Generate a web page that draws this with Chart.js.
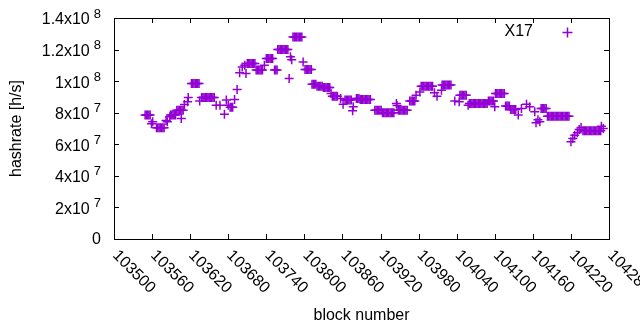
<!DOCTYPE html>
<html>
<head>
<meta charset="utf-8">
<script src="https://cdn.jsdelivr.net/npm/chart.js@4"></script>
<style>
  html, body { margin: 0; padding: 0; background: #fff; }
  #wrap { width: 640px; height: 330px; }
</style>
</head>
<body>
<div id="wrap"><canvas id="grafico" width="640" height="330"></canvas></div>
<script>
// block numbers and hashrate (in units of 1e7 h/s)
const blocks = [
  103549, 103551, 103553, 103555, 103557, 103559, 103561,
  103567, 103569, 103571, 103573, 103575, 103577, 103579,
  103582, 103584, 103588, 103589, 103591, 103593, 103595, 103597,
  103599, 103601, 103603, 103605, 103606, 103607, 103609,
  103611, 103616, 103617,
  103622, 103624, 103626, 103628, 103630, 103632, 103634, 103635,
  103638, 103640, 103642, 103644, 103646, 103648, 103650, 103652, 103654, 103656, 103658,
  103661, 103667, 103674, 103677, 103680, 103683, 103685, 103687, 103690, 103694,
  103698, 103702, 103706, 103708,
  103710, 103712, 103714, 103716, 103718, 103720, 103722,
  103724, 103726, 103728, 103730, 103732, 103734, 103737,
  103740, 103742, 103744, 103746, 103748, 103750,
  103753, 103755, 103757,
  103758, 103760, 103762, 103764, 103766, 103768, 103770, 103772, 103774,
  103776, 103778, 103780,
  103782, 103784, 103786, 103788, 103790, 103792, 103794, 103796,
  103798, 103801, 103803, 103805, 103807, 103809, 103811,
  103812, 103814, 103816, 103818,
  103820, 103822, 103824, 103826, 103828,
  103830, 103832, 103834, 103836, 103838, 103840,
  103842, 103844, 103846, 103848, 103850, 103852,
  103857, 103861, 103864, 103866, 103868, 103870, 103872, 103874,
  103876, 103877, 103882, 103884, 103886,
  103888, 103890, 103892, 103894, 103896, 103898, 103900, 103902, 103904,
  103911, 103913, 103915, 103917, 103919, 103921,
  103923, 103925, 103927, 103929, 103931, 103933, 103935, 103937, 103939, 103941,
  103945, 103946, 103948, 103950, 103952, 103954, 103956, 103958, 103960, 103962,
  103966, 103968, 103970, 103972, 103974, 103976, 103982,
  103984, 103986, 103988, 103990, 103992, 103994, 103996, 103998, 104000, 104002,
  104005, 104009, 104016,
  104017, 104019, 104021, 104023, 104025, 104027, 104029, 104031,
  104037, 104044, 104045, 104047, 104049, 104051, 104053, 104055, 104058,
  104060, 104062, 104064, 104066, 104068, 104070, 104072, 104074, 104076, 104078, 104080, 104082, 104084, 104086, 104088,
  104090, 104092, 104094, 104096, 104098, 104100,
  104101, 104103, 104105, 104107, 104109, 104111, 104113, 104115,
  104117, 104119, 104121, 104123,
  104125, 104127, 104129, 104131, 104133,
  104137, 104142, 104150, 104155, 104163, 104165, 104168, 104171,
  104173, 104175, 104177, 104179, 104181,
  104183, 104185, 104187, 104189, 104191, 104193, 104195, 104197, 104199, 104201, 104203, 104205, 104207, 104209, 104211, 104213, 104215, 104217,
  104220, 104223, 104226, 104230, 104233, 104236,
  104239, 104241, 104243, 104245, 104247, 104249, 104251, 104253, 104255, 104257, 104259, 104261, 104263, 104265, 104267,
  104268, 104271
];

const hashrateE7 = [
  7.85, 7.85, 7.85, 7.85, 7.85, 7.3, 7.42,
  7.05, 7.05, 7.05, 7.05, 7.05, 7.05, 7.05,
  7.5, 7.42, 7.74, 7.85, 7.85, 7.85, 7.85, 7.85,
  8.16, 8.16, 8.16, 8.16, 7.64, 8.16, 8.16,
  8.52, 8.69, 8.97,
  9.85, 9.85, 9.85, 9.85, 9.85, 9.85, 9.85, 8.75,
  8.97, 8.97, 8.97, 8.97, 8.97, 8.97, 8.97, 8.97, 8.97, 8.97, 8.97,
  8.48, 8.48, 7.9, 8.8, 8.48, 8.34, 8.34, 8.34, 8.84, 9.47,
  10.53, 10.9, 11.0, 10.49,
  11.12, 11.12, 11.12, 11.12, 11.12, 11.12, 11.12,
  10.7, 10.7, 10.7, 10.7, 10.7, 10.7, 11.0,
  11.44, 11.44, 11.44, 11.44, 11.44, 11.44,
  10.7, 10.7, 10.7,
  12.0, 12.0, 12.0, 12.0, 12.0, 12.0, 12.0, 12.0, 12.0,
  10.17, 11.54, 11.35,
  12.8, 12.8, 12.8, 12.8, 12.8, 12.8, 12.8, 12.8,
  11.22, 10.74, 10.74, 10.74, 10.74, 10.74, 10.74,
  9.81, 9.81, 9.81, 9.81,
  9.68, 9.68, 9.68, 9.68, 9.68,
  9.6, 9.6, 9.6, 9.6, 9.6, 9.6,
  9.22, 9.05, 9.05, 9.05, 9.05, 9.05,
  8.9, 8.54, 8.8, 8.8, 8.8, 8.8, 8.8, 8.8,
  8.12, 8.37, 8.9, 8.9, 8.9,
  8.84, 8.84, 8.84, 8.84, 8.84, 8.84, 8.84, 8.84, 8.84,
  8.16, 8.16, 8.16, 8.16, 8.16, 8.16,
  8.0, 8.0, 8.0, 8.0, 8.0, 8.0, 8.0, 8.0, 8.0, 8.0,
  8.59, 8.45, 8.16, 8.16, 8.16, 8.16, 8.16, 8.16, 8.16, 8.16,
  8.75, 8.75, 8.75, 8.75, 8.75, 9.11, 9.32,
  9.68, 9.68, 9.68, 9.68, 9.68, 9.68, 9.68, 9.68, 9.68, 9.68,
  9.26, 9.05, 9.43,
  9.75, 9.75, 9.75, 9.75, 9.75, 9.75, 9.75, 9.75,
  8.75, 8.69, 9.11, 9.11, 9.11, 9.11, 9.11, 9.11, 8.48,
  8.59, 8.59, 8.59, 8.59, 8.59, 8.59, 8.59, 8.59, 8.59, 8.59, 8.59, 8.59, 8.59, 8.59, 8.59,
  8.75, 8.75, 8.75, 8.75, 8.75, 8.37,
  9.22, 9.22, 9.22, 9.22, 9.22, 9.22, 9.22, 9.22,
  8.42, 8.42, 8.42, 8.42,
  8.21, 8.21, 8.21, 8.21, 8.21,
  7.85, 8.27, 8.54, 8.37, 8.06, 7.36, 7.55, 7.42,
  8.27, 8.27, 8.27, 8.27, 8.27,
  7.78, 7.78, 7.78, 7.78, 7.78, 7.78, 7.78, 7.78, 7.78, 7.78, 7.78, 7.78, 7.78, 7.78, 7.78, 7.78, 7.78, 7.78,
  6.16, 6.37, 6.58, 6.73, 6.94, 7.07,
  6.85, 6.85, 6.85, 6.85, 6.85, 6.85, 6.85, 6.85, 6.85, 6.85, 6.85, 6.85, 6.85, 6.85, 6.85,
  7.15, 7.0
];

const xTicks = [103500, 103560, 103620, 103680, 103740, 103800, 103860, 103920, 103980, 104040, 104100, 104160, 104220, 104280];
const yTicks = [0, 2e7, 4e7, 6e7, 8e7, 1e8, 1.2e8, 1.4e8];

const cor = '#9400d3';
const fonte = '"Liberation Sans", Arial, sans-serif';

const pontos = blocks.map((b, i) => ({ x: b, y: hashrateE7[i] * 1e7 }));

// gnuplot-like frame, ticks, labels and key
const moldura = {
  id: 'moldura',
  afterDraw(chart) {
    const c = chart.ctx;
    const a = chart.chartArea;
    const sx = chart.scales.x, sy = chart.scales.y;
    c.save();
    c.strokeStyle = '#000';
    c.lineWidth = 1;
    c.strokeRect(Math.round(a.left) + 0.5, Math.round(a.top) + 0.5, Math.round(a.right - a.left), Math.round(a.bottom - a.top));

    const tl = 5;
    c.beginPath();
    xTicks.forEach(v => {
      const px = Math.round(sx.getPixelForValue(v)) + 0.5;
      c.moveTo(px, a.bottom); c.lineTo(px, a.bottom - tl);
      c.moveTo(px, a.top); c.lineTo(px, a.top + tl);
    });
    yTicks.forEach(v => {
      const py = Math.round(sy.getPixelForValue(v)) + 0.5;
      c.moveTo(a.left, py); c.lineTo(a.left + tl, py);
      c.moveTo(a.right, py); c.lineTo(a.right - tl, py);
    });
    c.stroke();

    c.fillStyle = '#000';
    // y tick labels with superscript exponent
    yTicks.forEach(v => {
      const py = sy.getPixelForValue(v);
      const dir = 101;
      c.textBaseline = 'middle';
      c.textAlign = 'right';
      if (v === 0) {
        c.font = '16px ' + fonte;
        c.fillText('0', dir, py + 1);
        return;
      }
      const exp = Math.floor(Math.log10(v) + 1e-9);
      const mant = +(v / Math.pow(10, exp)).toFixed(1);
      c.font = '13px ' + fonte;
      const wExp = c.measureText(String(exp)).width;
      c.fillText(String(exp), dir, py - 4);
      c.font = '16px ' + fonte;
      c.fillText(mant + 'x10', dir - wExp - 4, py + 2);
    });

    // x tick labels, rotated 45 degrees
    c.font = '16px ' + fonte;
    c.textAlign = 'left';
    c.textBaseline = 'middle';
    xTicks.forEach(v => {
      const px = sx.getPixelForValue(v);
      c.save();
      c.translate(px + 1, a.bottom + 14);
      c.rotate(Math.PI / 4);
      c.fillText(String(v), 0, 0);
      c.restore();
    });

    // axis titles
    c.textAlign = 'center';
    c.fillText('block number', (a.left + a.right) / 2, 316);
    c.save();
    c.translate(17, (a.top + a.bottom) / 2);
    c.rotate(-Math.PI / 2);
    c.fillText('hashrate [h/s]', 0, 0);
    c.restore();

    // key
    c.textAlign = 'right';
    c.fillText(chart.data.datasets[0].label, 533, 32);
    c.strokeStyle = cor;
    c.lineWidth = 1.5;
    c.beginPath();
    c.moveTo(562.5, 32.5); c.lineTo(572.5, 32.5);
    c.moveTo(567.5, 27.5); c.lineTo(567.5, 37.5);
    c.stroke();
    c.restore();
  }
};

const ctx = document.getElementById('grafico').getContext('2d');
const grafico = new Chart(ctx, {
  type: 'scatter',
  data: {
    datasets: [{
      label: 'X17',
      data: pontos,
      pointStyle: 'cross',
      pointRadius: 4.5,
      pointBorderWidth: 1.5,
      borderColor: cor,
      backgroundColor: cor
    }]
  },
  options: {
    responsive: false,
    animation: false,
    events: [],
    layout: { padding: { top: 18, right: 31, left: 0, bottom: 0 } },
    plugins: { legend: { display: false }, tooltip: { enabled: false } },
    scales: {
      x: {
        type: 'linear', min: 103500, max: 104280,
        grid: { display: false }, border: { display: false },
        ticks: { display: false },
        afterFit(s) { s.height = 91; }
      },
      y: {
        min: 0, max: 1.4e8,
        grid: { display: false }, border: { display: false },
        ticks: { display: false },
        afterFit(s) { s.width = 114; }
      }
    }
  },
  plugins: [moldura]
});
</script>
</body>
</html>
